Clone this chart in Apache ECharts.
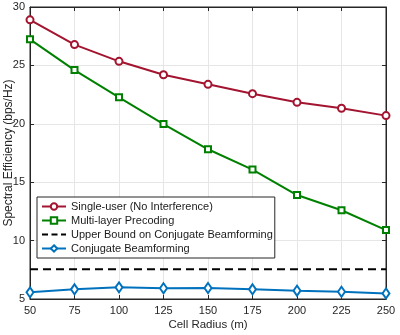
<!DOCTYPE html>
<html>
<head>
<meta charset="utf-8">
<script src="https://cdn.jsdelivr.net/npm/echarts@6/dist/echarts.min.js"></script>
<style>
  html, body { margin: 0; padding: 0; background: #fff; }
  #main { width: 400px; height: 335px; }
</style>
</head>
<body>
<div id="main"></div>
<script>
var radius = [50, 75, 100, 125, 150, 175, 200, 225, 250];
var singleUser = [28.9, 26.78, 25.35, 24.2, 23.38, 22.58, 21.84, 21.33, 20.7];
var multiLayer = [27.23, 24.6, 22.27, 19.98, 17.82, 16.08, 13.9, 12.6, 10.9];
var upperBound = [7.55, 7.55, 7.55, 7.55, 7.55, 7.55, 7.55, 7.55, 7.55];
var conjugate = [5.57, 5.83, 6.0, 5.92, 5.94, 5.83, 5.71, 5.62, 5.48];
var xTicks = [50, 250, 25];
var yTicks = [5, 30, 5];

function pairs(ys) {
  return radius.map(function (x, i) { return [x, ys[i]]; });
}

var chartDom = document.getElementById('main');
var myChart = echarts.init(chartDom);
var font = 'Liberation Sans';

var option = {
  animation: false,
  textStyle: { fontFamily: font },
  grid: {
    left: 30, right: 14, top: 7, bottom: 36,
    outerBoundsMode: 'none', containLabel: false,
    show: true, borderColor: '#262626', borderWidth: 1
  },
  legend: {
    orient: 'vertical',
    left: 37, top: 197,
    itemWidth: 24, itemHeight: 8, itemGap: 3,
    padding: [4, 2, 4, 4],
    backgroundColor: '#fff',
    borderColor: '#262626', borderWidth: 1,
    textStyle: { fontFamily: font, fontSize: 11, color: '#1a1a1a' },
    data: [
      'Single-user (No Interference)',
      'Multi-layer Precoding',
      { name: 'Upper Bound on Conjugate Beamforming', itemStyle: { opacity: 0 },
        lineStyle: { type: [6, 3.5] } },
      'Conjugate Beamforming'
    ]
  },
  xAxis: [{
    type: 'value', min: xTicks[0], max: xTicks[1], interval: xTicks[2],
    name: 'Cell Radius (m)', nameLocation: 'middle', nameGap: 20,
    nameMoveOverlap: false,
    nameTextStyle: { fontSize: 11.5, color: '#262626', fontFamily: font },
    axisLine: { lineStyle: { color: '#262626' } },
    axisTick: { inside: true, length: 4, lineStyle: { color: '#262626' } },
    axisLabel: { fontSize: 11, color: '#262626', margin: 6 },
    splitLine: { lineStyle: { color: '#e6e6e6' } }
  }, {
    type: 'value', position: 'top', min: xTicks[0], max: xTicks[1], interval: xTicks[2],
    axisLine: { lineStyle: { color: '#262626' } },
    axisTick: { inside: true, length: 4, lineStyle: { color: '#262626' } },
    axisLabel: { show: false }, splitLine: { show: false }
  }],
  yAxis: [{
    type: 'value', min: yTicks[0], max: yTicks[1], interval: yTicks[2],
    name: 'Spectral Efficiency (bps/Hz)', nameLocation: 'middle', nameGap: 15,
    nameMoveOverlap: false,
    nameTextStyle: { fontSize: 12, color: '#262626', fontFamily: font },
    axisLine: { show: true, lineStyle: { color: '#262626' } },
    axisTick: { show: true, inside: true, length: 4, lineStyle: { color: '#262626' } },
    axisLabel: { fontSize: 11, color: '#262626', margin: 5 },
    splitLine: { lineStyle: { color: '#e6e6e6' } }
  }, {
    type: 'value', position: 'right', min: yTicks[0], max: yTicks[1], interval: yTicks[2],
    axisLine: { show: true, lineStyle: { color: '#262626' } },
    axisTick: { show: true, inside: true, length: 4, lineStyle: { color: '#262626' } },
    axisLabel: { show: false }, splitLine: { show: false }
  }],
  series: [{
    name: 'Single-user (No Interference)', type: 'line',
    data: pairs(singleUser),
    symbol: 'emptyCircle', symbolSize: 7,
    lineStyle: { color: '#A2142F', width: 2 },
    itemStyle: { color: '#A2142F', borderWidth: 1.5 }
  }, {
    name: 'Multi-layer Precoding', type: 'line',
    data: pairs(multiLayer),
    symbol: 'emptyRect', symbolSize: 6,
    lineStyle: { color: '#008000', width: 2 },
    itemStyle: { color: '#008000', borderWidth: 1.5 }
  }, {
    name: 'Upper Bound on Conjugate Beamforming', type: 'line',
    data: pairs(upperBound),
    symbol: 'none',
    lineStyle: { color: '#000', width: 2, type: [8, 5] },
    itemStyle: { color: '#000' }
  }, {
    name: 'Conjugate Beamforming', type: 'line',
    data: pairs(conjugate),
    symbol: 'emptyDiamond', symbolSize: [7, 10],
    lineStyle: { color: '#0072BD', width: 2 },
    itemStyle: { color: '#0072BD', borderWidth: 1.5 }
  }]
};
myChart.setOption(option);
</script>
</body>
</html>
